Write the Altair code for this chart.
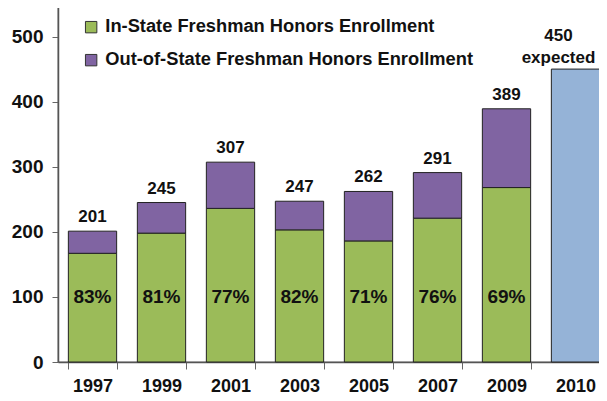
import altair as alt
import pandas as pd

years = ["1997", "1999", "2001", "2003", "2005", "2007", "2009", "2010"]
totals = [201, 245, 307, 247, 262, 291, 389, 450]
in_state = [167, 198, 236, 203, 186, 221, 268]
pct_in_state = [83, 81, 77, 82, 71, 76, 69]
total_labels = ["201", "245", "307", "247", "262", "291", "389", "450\nexpected"]

S_IN = "In-State Freshman Honors Enrollment"
S_OUT = "Out-of-State Freshman Honors Enrollment"
S_EXP = "Expected"

rows = []
for i, y in enumerate(years[:-1]):
    rows.append({"year": y, "series": S_IN, "value": in_state[i], "ord": 0})
    rows.append({"year": y, "series": S_OUT, "value": totals[i] - in_state[i], "ord": 1})
rows.append({"year": years[-1], "series": S_EXP, "value": totals[-1], "ord": 0})
bars_df = pd.DataFrame(rows)

tot_df = pd.DataFrame({"year": years, "total": totals, "label": total_labels})
tot_hist = tot_df.iloc[:-1]
tot_exp = tot_df.iloc[-1:]
pct_df = pd.DataFrame({"year": years[:-1],
                       "label": [f"{p}%" for p in pct_in_state],
                       "pos": [100] * len(pct_in_state)})

FONT = "Liberation Sans"

x_enc = alt.X("year:N", sort=years, title=None,
              scale=alt.Scale(paddingInner=0.3, paddingOuter=0.15),
              axis=alt.Axis(labelAngle=0, labelFont=FONT, labelFontSize=18,
                            labelFontWeight="bold", labelColor="#111",
                            labelPadding=8, tickBand="extent", tickSize=7,
                            tickColor="#666", domainColor="#555",
                            domainWidth=1.5))

y_scale = alt.Scale(domain=[0, 550], nice=False)

bars = alt.Chart(bars_df).mark_bar(stroke="#222", strokeWidth=1).encode(
    x=x_enc,
    y=alt.Y("value:Q", stack="zero", scale=y_scale, title=None,
            axis=alt.Axis(values=[0, 100, 200, 300, 400, 500], grid=False,
                          labelFont=FONT, labelFontSize=19,
                          labelFontWeight="bold", labelColor="#111",
                          labelPadding=9, tickSize=6, tickColor="#666",
                          domainColor="#555", domainWidth=1.5)),
    color=alt.Color("series:N",
                    scale=alt.Scale(domain=[S_IN, S_OUT, S_EXP],
                                    range=["#9BBB59", "#8064A2", "#95B3D7"]),
                    legend=alt.Legend(values=[S_IN, S_OUT], title=None,
                                      orient="none", legendX=24, legendY=14,
                                      symbolType="square", symbolSize=130,
                                      symbolStrokeColor="#333",
                                      symbolStrokeWidth=1, labelFont=FONT,
                                      labelFontSize=18.3, labelFontWeight="bold",
                                      labelColor="#111", labelLimit=500,
                                      rowPadding=14, labelOffset=5)),
    order=alt.Order("ord:Q"),
)

tot_text = alt.Chart(tot_hist).mark_text(
    font=FONT, fontSize=17, fontWeight="bold", color="#111",
    baseline="bottom", dy=-5,
).encode(x=alt.X("year:N", sort=years), y=alt.Y("total:Q", scale=y_scale),
         text="label:N")

exp_text = alt.Chart(tot_exp).mark_text(
    font=FONT, fontSize=17, fontWeight="bold", color="#111",
    baseline="alphabetic", dy=-28, dx=-17, lineBreak="\n", lineHeight=22,
).encode(x=alt.X("year:N", sort=years), y=alt.Y("total:Q", scale=y_scale),
         text="label:N")

pct_text = alt.Chart(pct_df).mark_text(
    font=FONT, fontSize=19, fontWeight="bold", color="#111",
    baseline="middle",
).encode(x=alt.X("year:N", sort=years), y=alt.Y("pos:Q", scale=y_scale),
         text="label:N")

chart = alt.layer(bars, tot_text, exp_text, pct_text).properties(
    width=552, height=358,
    autosize=alt.AutoSizeParams(type="none"),
    padding={"left": 50, "top": -4, "right": -11, "bottom": 34},
).configure_view(stroke="#A0A0A0", strokeWidth=1.5)

chart.save("out.html", embed_options={"renderer": "svg", "actions": False})
